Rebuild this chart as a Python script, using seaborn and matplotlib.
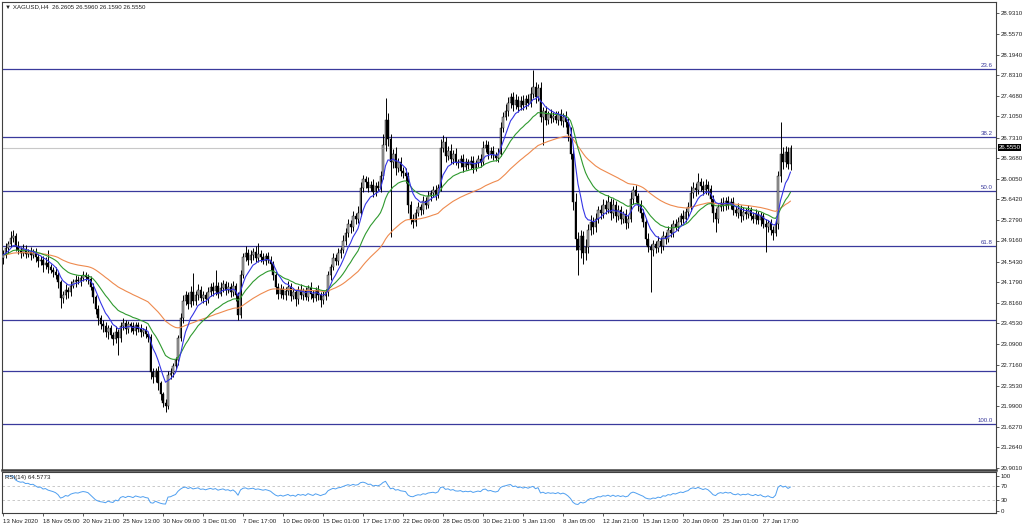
import numpy as np
import pandas as pd
import matplotlib
matplotlib.use("Agg")
import matplotlib.pyplot as plt
import seaborn as sns

sns.set_style("white")
plt.rcParams["font.family"] = ["Liberation Sans", "DejaVu Sans"]

# ---------------- data (XAGUSD H4) ----------------
first_open = 24.60
close = [
    24.66, 24.78, 24.85, 24.96, 25.00, 24.82, 24.74, 24.70, 24.76, 24.68,
    24.72, 24.66, 24.70, 24.62, 24.55, 24.58, 24.48, 24.52, 24.44, 24.40,
    24.36, 24.30, 24.18, 23.90, 23.95, 24.05, 24.00, 24.12, 24.18, 24.22,
    24.20, 24.26, 24.30, 24.28, 24.24, 24.10, 23.92, 23.70, 23.55, 23.45,
    23.40, 23.30, 23.38, 23.25, 23.18, 23.30, 23.20, 23.40, 23.46, 23.36,
    23.44, 23.40, 23.32, 23.42, 23.36, 23.30, 23.34, 23.26, 23.22, 22.60,
    22.50, 22.62, 22.40, 22.20, 22.05, 22.00, 22.55, 22.58, 22.70, 22.80,
    23.20, 23.55, 23.85, 23.95, 23.80, 24.00, 23.85, 23.95, 24.05, 23.90,
    23.96, 23.88, 24.00, 24.10, 24.02, 24.12, 23.98, 24.08, 24.15, 24.05,
    24.10, 24.00, 24.12, 23.95, 23.60, 24.30, 24.62, 24.70, 24.58, 24.66,
    24.72, 24.60, 24.68, 24.62, 24.56, 24.64, 24.58, 24.50, 24.30, 24.10,
    23.98, 24.06, 23.95, 24.02, 24.10, 23.94, 24.00, 23.88, 24.05, 23.96,
    24.02, 23.92, 24.08, 23.98, 23.90, 24.04, 23.96, 23.86, 23.94, 24.00,
    24.30, 24.45, 24.60, 24.55, 24.70, 24.75, 24.90, 25.05, 25.20, 25.15,
    25.35, 25.30, 25.40, 25.85, 26.00, 25.95, 25.85, 25.90, 25.78, 25.88,
    25.85, 26.05, 26.60, 27.05, 26.70, 26.30, 26.45, 26.20, 26.30, 26.15,
    26.10, 26.05, 25.55, 25.30, 25.25, 25.40, 25.50, 25.45, 25.62, 25.55,
    25.70, 25.75, 25.80, 25.72, 25.85, 26.55, 26.65, 26.40, 26.50, 26.35,
    26.45, 26.30, 26.28, 26.35, 26.22, 26.30, 26.25, 26.32, 26.20, 26.28,
    26.35, 26.30, 26.55, 26.60, 26.45, 26.50, 26.42, 26.38, 26.45, 26.90,
    27.10, 27.20, 27.35, 27.45, 27.30, 27.40, 27.28, 27.38, 27.30, 27.42,
    27.35, 27.50, 27.62, 27.45, 27.60, 27.10, 27.20, 27.05, 27.15, 27.08,
    27.12, 27.05, 27.15, 27.02, 27.10, 27.00, 26.80, 26.45, 25.60, 24.95,
    24.75, 25.00, 24.70, 24.80, 25.10, 25.25, 25.15, 25.30, 25.45, 25.40,
    25.55, 25.48, 25.60, 25.40, 25.55, 25.35, 25.45, 25.30, 25.38, 25.22,
    25.30, 25.65, 25.80, 25.70, 25.55, 25.40, 25.25, 24.95, 24.80, 24.75,
    24.85, 24.78, 24.90, 24.82, 25.00, 24.95, 25.10, 25.05, 25.20, 25.15,
    25.25, 25.35, 25.30, 25.42, 25.50, 25.75, 25.85, 25.80, 25.95, 25.88,
    25.80, 25.90, 25.82, 25.65, 25.40, 25.30, 25.50, 25.58, 25.52, 25.62,
    25.55, 25.60, 25.45, 25.40, 25.48, 25.35, 25.42, 25.38, 25.45, 25.35,
    25.30, 25.38, 25.28, 25.34, 25.20, 25.15, 25.22, 25.10, 25.05, 25.20,
    26.05, 26.45, 26.30, 26.48, 26.26, 26.555,
]
wick_up = [
    0.08, 0.10, 0.06, 0.12, 0.10, 0.05, 0.08, 0.06, 0.10, 0.07,
    0.05, 0.08, 0.06, 0.09, 0.05, 0.07, 0.06, 0.10, 0.22, 0.06,
    0.05, 0.08, 0.06, 0.04, 0.07, 0.10, 0.05, 0.08, 0.06, 0.09,
    0.07, 0.05, 0.08, 0.06, 0.04, 0.05, 0.06, 0.04, 0.07, 0.05,
    0.06, 0.08, 0.05, 0.04, 0.06, 0.10, 0.05, 0.07, 0.08, 0.05,
    0.06, 0.04, 0.07, 0.05, 0.06, 0.08, 0.04, 0.06, 0.05, 0.04,
    0.06, 0.05, 0.08, 0.04, 0.05, 0.06, 0.07, 0.08, 0.05, 0.06,
    0.05, 0.08, 0.10, 0.07, 0.06, 0.12, 0.34, 0.08, 0.10, 0.06,
    0.07, 0.05, 0.09, 0.06, 0.08, 0.28, 0.06, 0.10, 0.07, 0.05,
    0.08, 0.06, 0.09, 0.05, 0.06, 0.10, 0.08, 0.12, 0.06, 0.09,
    0.07, 0.10, 0.19, 0.06, 0.08, 0.05, 0.07, 0.06, 0.05, 0.08,
    0.06, 0.09, 0.05, 0.07, 0.10, 0.06, 0.08, 0.05, 0.07, 0.09,
    0.06, 0.08, 0.05, 0.10, 0.07, 0.06, 0.09, 0.05, 0.08, 0.06,
    0.08, 0.06, 0.10, 0.07, 0.09, 0.06, 0.12, 0.08, 0.10, 0.07,
    0.09, 0.06, 0.12, 0.10, 0.08, 0.06, 0.09, 0.07, 0.10, 0.06,
    0.08, 0.10, 0.20, 0.38, 0.12, 0.10, 0.08, 0.12, 0.07, 0.09,
    0.06, 0.10, 0.08, 0.06, 0.09, 0.07, 0.10, 0.06, 0.08, 0.07,
    0.09, 0.06, 0.08, 0.10, 0.07, 0.15, 0.13, 0.10, 0.08, 0.12,
    0.07, 0.09, 0.06, 0.08, 0.10, 0.07, 0.06, 0.09, 0.08, 0.06,
    0.08, 0.10, 0.12, 0.09, 0.07, 0.06, 0.08, 0.05, 0.09, 0.10,
    0.08, 0.12, 0.10, 0.07, 0.09, 0.11, 0.06, 0.08, 0.10, 0.07,
    0.09, 0.12, 0.30, 0.10, 0.08, 0.12, 0.07, 0.09, 0.06, 0.08,
    0.07, 0.09, 0.06, 0.08, 0.07, 0.10, 0.08, 0.12, 0.10, 0.15,
    0.12, 0.10, 0.08, 0.15, 0.10, 0.12, 0.08, 0.10, 0.07, 0.09,
    0.10, 0.08, 0.12, 0.06, 0.09, 0.07, 0.10, 0.08, 0.06, 0.09,
    0.07, 0.12, 0.08, 0.10, 0.06, 0.08, 0.07, 0.05, 0.09, 0.06,
    0.08, 0.06, 0.10, 0.07, 0.09, 0.06, 0.08, 0.10, 0.07, 0.09,
    0.08, 0.06, 0.10, 0.07, 0.09, 0.12, 0.10, 0.08, 0.15, 0.07,
    0.09, 0.10, 0.06, 0.08, 0.07, 0.09, 0.06, 0.08, 0.10, 0.07,
    0.08, 0.06, 0.09, 0.07, 0.10, 0.06, 0.08, 0.07, 0.09, 0.06,
    0.07, 0.09, 0.06, 0.08, 0.07, 0.10, 0.06, 0.08, 0.07, 0.10,
    0.10, 0.55, 0.12, 0.10, 0.08, 0.041,
]
wick_dn = [
    0.10, 0.06, 0.08, 0.05, 0.07, 0.09, 0.06, 0.10, 0.05, 0.08,
    0.06, 0.09, 0.05, 0.08, 0.10, 0.06, 0.12, 0.07, 0.09, 0.06,
    0.08, 0.06, 0.10, 0.18, 0.08, 0.06, 0.10, 0.07, 0.05, 0.08,
    0.06, 0.08, 0.05, 0.07, 0.09, 0.06, 0.10, 0.08, 0.12, 0.09,
    0.10, 0.08, 0.12, 0.06, 0.10, 0.08, 0.30, 0.07, 0.06, 0.09,
    0.07, 0.10, 0.06, 0.08, 0.05, 0.09, 0.07, 0.06, 0.10, 0.12,
    0.10, 0.08, 0.12, 0.10, 0.08, 0.11, 0.06, 0.08, 0.07, 0.05,
    0.08, 0.06, 0.09, 0.07, 0.10, 0.06, 0.08, 0.07, 0.09, 0.06,
    0.08, 0.10, 0.06, 0.07, 0.09, 0.06, 0.08, 0.05, 0.07, 0.09,
    0.06, 0.08, 0.07, 0.10, 0.08, 0.06, 0.05, 0.07, 0.09, 0.06,
    0.08, 0.06, 0.07, 0.09, 0.05, 0.08, 0.06, 0.10, 0.08, 0.12,
    0.10, 0.08, 0.06, 0.09, 0.07, 0.10, 0.06, 0.12, 0.08, 0.07,
    0.09, 0.06, 0.08, 0.10, 0.07, 0.05, 0.09, 0.12, 0.06, 0.08,
    0.06, 0.08, 0.05, 0.07, 0.06, 0.09, 0.05, 0.07, 0.08, 0.10,
    0.06, 0.09, 0.07, 0.05, 0.08, 0.10, 0.07, 0.06, 0.09, 0.07,
    0.06, 0.08, 0.05, 0.10, 0.12, 1.32, 0.10, 0.12, 0.08, 0.10,
    0.08, 0.12, 0.15, 0.10, 0.12, 0.08, 0.06, 0.09, 0.07, 0.08,
    0.06, 0.08, 0.07, 0.09, 0.05, 0.06, 0.08, 0.10, 0.07, 0.09,
    0.08, 0.06, 0.09, 0.07, 0.10, 0.06, 0.08, 0.07, 0.09, 0.06,
    0.07, 0.09, 0.05, 0.08, 0.10, 0.07, 0.09, 0.06, 0.08, 0.05,
    0.07, 0.06, 0.08, 0.09, 0.10, 0.07, 0.09, 0.06, 0.08, 0.07,
    0.06, 0.08, 0.07, 0.10, 0.08, 0.09, 0.50, 0.10, 0.07, 0.09,
    0.08, 0.06, 0.09, 0.07, 0.10, 0.08, 0.12, 0.10, 0.15, 0.20,
    0.44, 0.15, 0.20, 0.12, 0.10, 0.08, 0.12, 0.09, 0.07, 0.10,
    0.08, 0.10, 0.07, 0.12, 0.08, 0.10, 0.07, 0.09, 0.08, 0.10,
    0.08, 0.06, 0.09, 0.10, 0.12, 0.08, 0.10, 0.12, 0.09, 0.75,
    0.10, 0.08, 0.06, 0.12, 0.07, 0.09, 0.06, 0.08, 0.07, 0.05,
    0.07, 0.06, 0.08, 0.05, 0.09, 0.06, 0.08, 0.10, 0.07, 0.09,
    0.08, 0.06, 0.10, 0.12, 0.15, 0.24, 0.08, 0.07, 0.09, 0.06,
    0.08, 0.07, 0.09, 0.06, 0.08, 0.10, 0.07, 0.09, 0.06, 0.08,
    0.07, 0.09, 0.08, 0.10, 0.07, 0.44, 0.09, 0.08, 0.12, 0.06,
    0.08, 0.10, 0.12, 0.09, 0.08, 0.10,
]

price_ticks = [28.9310, 28.5570, 28.1940, 27.8310, 27.4680, 27.1050, 26.7310,
               26.3680, 26.0050, 25.6420, 25.2790, 24.9160, 24.5430, 24.1790,
               23.8160, 23.4530, 23.0900, 22.7160, 22.3530, 21.9900, 21.6270,
               21.2640, 20.9010]
time_labels = ["13 Nov 2020", "18 Nov 05:00", "20 Nov 21:00", "25 Nov 13:00",
               "30 Nov 09:00", "3 Dec 01:00", "7 Dec 17:00", "10 Dec 09:00",
               "15 Dec 01:00", "17 Dec 17:00", "22 Dec 09:00", "28 Dec 05:00",
               "30 Dec 21:00", "5 Jan 13:00", "8 Jan 05:00", "12 Jan 21:00",
               "15 Jan 13:00", "20 Jan 09:00", "25 Jan 01:00", "27 Jan 17:00"]
label_every = 16
fib_prices = [27.943, 26.743, 25.790, 24.819, 23.513, 22.613, 21.677]
fib_labels = ["23.6", "38.2", "50.0", "61.8", "", "", "100.0"]
last_price = 26.5550
rsi_ticks = [0, 30, 70, 100]
rsi_levels = [30, 70]
title_text = "\u25BC XAGUSD,H4  26.2605 26.5960 26.1590 26.5550"
rsi_text = "RSI(14) 64.5773"

# ---------------- derived series ----------------
c = np.array(close)
o = np.r_[first_open, c[:-1]]
h = np.maximum(o, c) + np.array(wick_up)
l = np.minimum(o, c) - np.array(wick_dn)
n = len(c)
bars = np.arange(n)
df = pd.DataFrame({"bar": bars, "open": o, "high": h, "low": l, "close": c})
df["ma_fast"] = df["close"].ewm(span=8, adjust=False).mean()
df["ma_mid"] = df["close"].ewm(span=21, adjust=False).mean()
df["ma_slow"] = df["close"].ewm(span=55, adjust=False).mean()
delta = df["close"].diff()
gain = delta.clip(lower=0).ewm(alpha=1 / 14, adjust=False).mean()
loss = (-delta.clip(upper=0)).ewm(alpha=1 / 14, adjust=False).mean()
df["rsi"] = 100 - 100 / (1 + gain / loss)

# ---------------- figure ----------------
W, H = 1024, 528
fig = plt.figure(figsize=(W / 100, H / 100), dpi=100)
fig.patch.set_facecolor("white")
ax = fig.add_axes([2 / W, 1 - 470 / H, 994 / W, 468 / H])
rax = fig.add_axes([2 / W, 1 - 513 / H, 994 / W, 41 / H], sharex=ax)

FS = 4.4
frame = "#404040"
txt = "#202020"

# price scale: 28.931 at y=13px, 20.901 at y=468px
ppu = 455 / (28.931 - 20.901)
ax.set_ylim(20.901 - 2 / ppu, 28.931 + 11 / ppu)
ax.set_xlim(-0.4, -0.4 + 994 / 2.5)

# horizontal levels
for p, lab in zip(fib_prices, fib_labels):
    ax.axhline(p, color="#3a3a9c", lw=0.9, zorder=1)
    if lab:
        ax.text(0.997, p + 0.015, lab, transform=ax.get_yaxis_transform(),
                ha="right", va="bottom", fontsize=FS, color="#3a3a9c")
ax.axhline(last_price, color="#c8c8c8", lw=0.8, zorder=1)

# candles
up = c >= o
ax.vlines(bars, l, h, color="black", lw=0.7, zorder=3)
body = np.maximum(np.abs(c - o), 0.012)
ax.bar(bars, body, bottom=np.minimum(o, c), width=0.62,
       color=np.where(up, "#a8a8a8", "black"), edgecolor="black",
       linewidth=0.3, zorder=4)

# moving averages
sns.lineplot(data=df, x="bar", y="ma_slow", ax=ax, color="#ee8a4e", lw=0.8, zorder=5, legend=False)
sns.lineplot(data=df, x="bar", y="ma_mid", ax=ax, color="#2f9a2f", lw=0.8, zorder=5, legend=False)
sns.lineplot(data=df, x="bar", y="ma_fast", ax=ax, color="#3535e6", lw=0.8, zorder=6, legend=False)

ax.yaxis.tick_right()
ax.set_yticks(price_ticks)
ax.set_yticklabels([f"{v:.4f}" for v in price_ticks])
ax.tick_params(axis="y", labelsize=FS, length=2, width=0.6, color=frame, pad=1.2,
               labelcolor=txt)
ax.tick_params(axis="x", bottom=False, labelbottom=False)
ax.set_xlabel("")
ax.set_ylabel("")
for s in ax.spines.values():
    s.set_color(frame)
    s.set_linewidth(0.8)
ax.spines["bottom"].set_linewidth(1.8)

ax.text(1.0025, last_price, f"{last_price:.4f}", transform=ax.get_yaxis_transform(),
        ha="left", va="center", fontsize=FS, color="white",
        bbox=dict(facecolor="black", edgecolor="none", pad=0.5), clip_on=False,
        zorder=10)

fig.text(5 / W, 1 - 7 / H, title_text, fontsize=FS, va="center", ha="left",
         color=txt)

# RSI panel
rppu = 34.7 / 100
rax.set_ylim(0 - 2.3 / rppu, 100 + 4 / rppu)
for lv in rsi_levels:
    rax.axhline(lv, color="#c0c0c0", lw=0.6, ls=(0, (3, 3)), zorder=1)
sns.lineplot(data=df, x="bar", y="rsi", ax=rax, color="#4f9ff0", lw=0.7, legend=False)
rax.yaxis.tick_right()
rax.set_yticks(rsi_ticks)
rax.set_yticklabels([str(t) for t in rsi_ticks])
rax.tick_params(axis="y", labelsize=FS, length=2, width=0.6, color=frame, pad=1.2,
                labelcolor=txt)
xt = np.arange(len(time_labels)) * label_every
rax.set_xticks(xt)
rax.set_xticklabels(time_labels)
for t in rax.get_xticklabels():
    t.set_ha("left")
rax.tick_params(axis="x", labelsize=FS, length=2.5, width=0.6, color=frame, pad=1.5,
                labelcolor=txt, bottom=True)
rax.set_xlabel("")
rax.set_ylabel("")
for s in rax.spines.values():
    s.set_color(frame)
    s.set_linewidth(0.8)
rax.text(0.003, 0.86, rsi_text, transform=rax.transAxes, fontsize=FS,
         va="center", ha="left", color=txt)

fig.savefig("out.png", dpi=100, facecolor="white")
